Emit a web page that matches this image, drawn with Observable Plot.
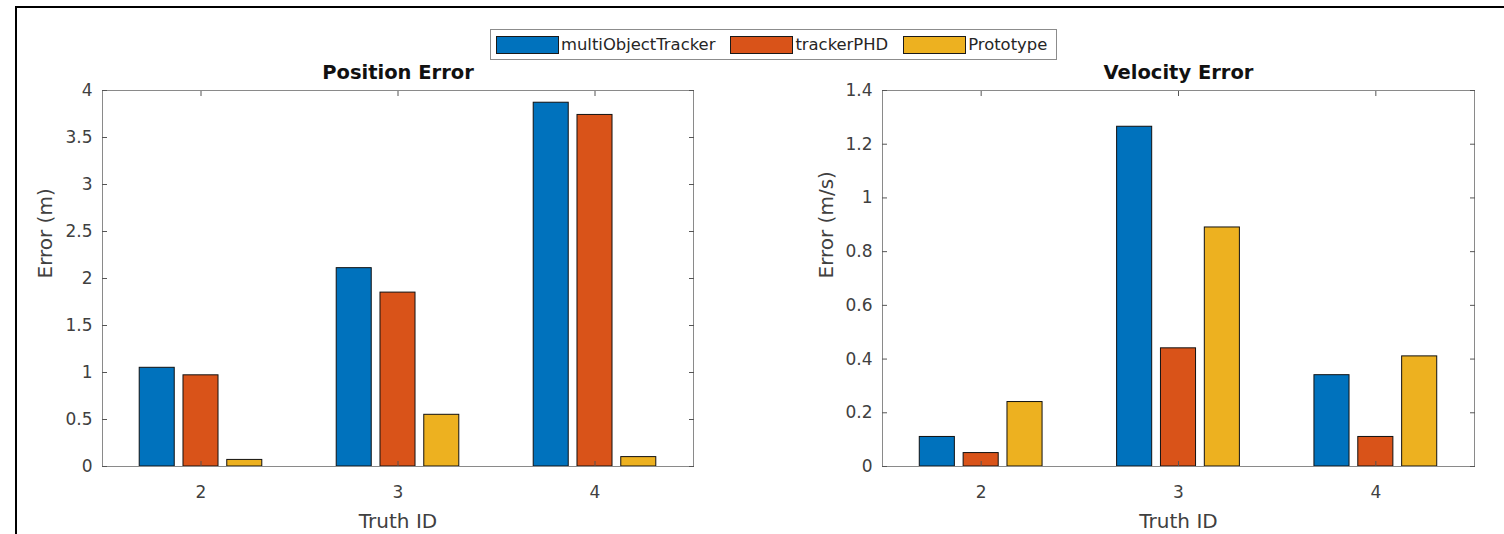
<!DOCTYPE html>
<html>
<head>
<meta charset="utf-8">
<script src="https://cdn.jsdelivr.net/npm/d3@7"></script>
<script src="https://cdn.jsdelivr.net/npm/@observablehq/plot@0.6"></script>
<style>
  html, body { margin: 0; padding: 0; background: #fff; }
  #wrap { position: relative; width: 1504px; height: 534px; overflow: hidden; font-family: "DejaVu Sans", sans-serif; background: #fff; }
  #border { position: absolute; left: 15px; top: 6px; right: -10px; bottom: -10px; border-top: 2px solid #000; border-left: 2px solid #000; z-index: 5; pointer-events: none; }
  #legend { position: absolute; left: 490px; top: 29px; width: 567px; height: 31px; box-sizing: border-box; border: 1px solid #8c8c8c; background: #fff; z-index: 4; display: flex; align-items: center; padding-left: 5px; }
  .item { display: flex; align-items: center; margin-right: 15px; }
  .sw { width: 63px; height: 18px; box-sizing: border-box; border: 1px solid #1a1a1a; margin-right: 2px; }
  .lab { font-size: 16.4px; color: #262626; white-space: nowrap; }
  .panel { position: absolute; top: 0; }
</style>
</head>
<body>
<div id="wrap">
  <div id="border"></div>
  <div id="legend"></div>
</div>
<script>
// ---- data ----
const truthIDs = [2, 3, 4];
const seriesNames = ["multiObjectTracker", "trackerPHD", "Prototype"];
const seriesColors = ["#0072BD", "#D95319", "#EDB120"];

// Position error (m)
const posMOT = [1.05, 2.11, 3.87];
const posPHD = [0.97, 1.85, 3.74];
const posProto = [0.07, 0.55, 0.10];

// Velocity error (m/s)
const velMOT = [0.11, 1.265, 0.34];
const velPHD = [0.05, 0.44, 0.11];
const velProto = [0.24, 0.89, 0.41];

// tick labels
const posTicks = [0, 0.5, 1, 1.5, 2, 2.5, 3, 3.5, 4];
const velTicks = [0, 0.2, 0.4, 0.6, 0.8, 1, 1.2, 1.4];
const xTicks = truthIDs;

// ---- helpers ----
function toRows(seriesArrays) {
  const out = [];
  seriesArrays.forEach((vals, k) =>
    vals.forEach((v, i) => out.push({ id: truthIDs[i], series: seriesNames[k], k, value: v }))
  );
  return out;
}

// MATLAB grouped bar geometry
const groupWidth = Math.min(0.8, 3 / (3 + 1.5));
const step = groupWidth / 3;
const barWidth = 0.8 * step;

function chart({ data, yTicks, title, ylabel, marginLeft, marginRight, labelDx }) {
  return Plot.plot({
    width: 752,
    height: 534,
    marginTop: 90,
    marginBottom: 68,
    marginLeft,
    marginRight,
    style: {
      fontFamily: '"DejaVu Sans", sans-serif',
      fontSize: "17px",
      color: "#404040",
      background: "transparent",
      overflow: "visible"
    },
    x: { type: "linear", domain: [1.5, 4.5] },
    y: { domain: [yTicks[0], yTicks[yTicks.length - 1]] },
    color: { domain: seriesNames, range: seriesColors },
    marks: [
      Plot.rect(data, {
        x1: d => d.id + (d.k - 1) * step - barWidth / 2,
        x2: d => d.id + (d.k - 1) * step + barWidth / 2,
        y1: 0,
        y2: "value",
        fill: "series",
        stroke: "#111",
        strokeWidth: 1
      }),
      Plot.frame({ stroke: "#8a8a8a" }),
      Plot.axisX({ anchor: "bottom", ticks: xTicks, tickSize: -5, tickPadding: 24, tickFormat: d => String(d), stroke: "#555", fill: "#404040", label: null }),
      Plot.axisX({ anchor: "top", ticks: xTicks, tickSize: -5, tickFormat: () => "", stroke: "#555", label: null }),
      Plot.axisY({ anchor: "left", ticks: yTicks, tickSize: -5, tickPadding: 15, tickFormat: d => String(d), stroke: "#555", fill: "#404040", label: null }),
      Plot.axisY({ anchor: "right", ticks: yTicks, tickSize: -5, tickFormat: () => "", stroke: "#555", label: null }),
      Plot.text([title], { frameAnchor: "top", dy: -12, lineAnchor: "bottom", fontWeight: "bold", fontSize: 19.5, fill: "#111" }),
      Plot.text([ylabel], { frameAnchor: "left", dx: labelDx, rotate: -90, fontSize: 20, fill: "#404040" }),
      Plot.text(["Truth ID"], { frameAnchor: "bottom", dy: 61, lineAnchor: "bottom", fontSize: 20, fill: "#404040" })
    ]
  });
}

const wrap = document.getElementById("wrap");

const left = chart({
  data: toRows([posMOT, posPHD, posProto]),
  yTicks: posTicks,
  title: "Position Error",
  ylabel: "Error (m)",
  marginLeft: 102,
  marginRight: 59,
  labelDx: -57
});
left.classList.add("panel");
left.style.left = "0px";
wrap.appendChild(left);

const right = chart({
  data: toRows([velMOT, velPHD, velProto]),
  yTicks: velTicks,
  title: "Velocity Error",
  ylabel: "Error (m/s)",
  marginLeft: 130,
  marginRight: 30,
  labelDx: -56
});
right.classList.add("panel");
right.style.left = "752px";
wrap.appendChild(right);

// legend built from the series arrays
const legend = document.getElementById("legend");
seriesNames.forEach((name, i) => {
  const item = document.createElement("div");
  item.className = "item";
  const sw = document.createElement("div");
  sw.className = "sw";
  sw.style.background = seriesColors[i];
  const lab = document.createElement("span");
  lab.className = "lab";
  lab.textContent = name;
  item.appendChild(sw);
  item.appendChild(lab);
  legend.appendChild(item);
});
</script>
</body>
</html>
